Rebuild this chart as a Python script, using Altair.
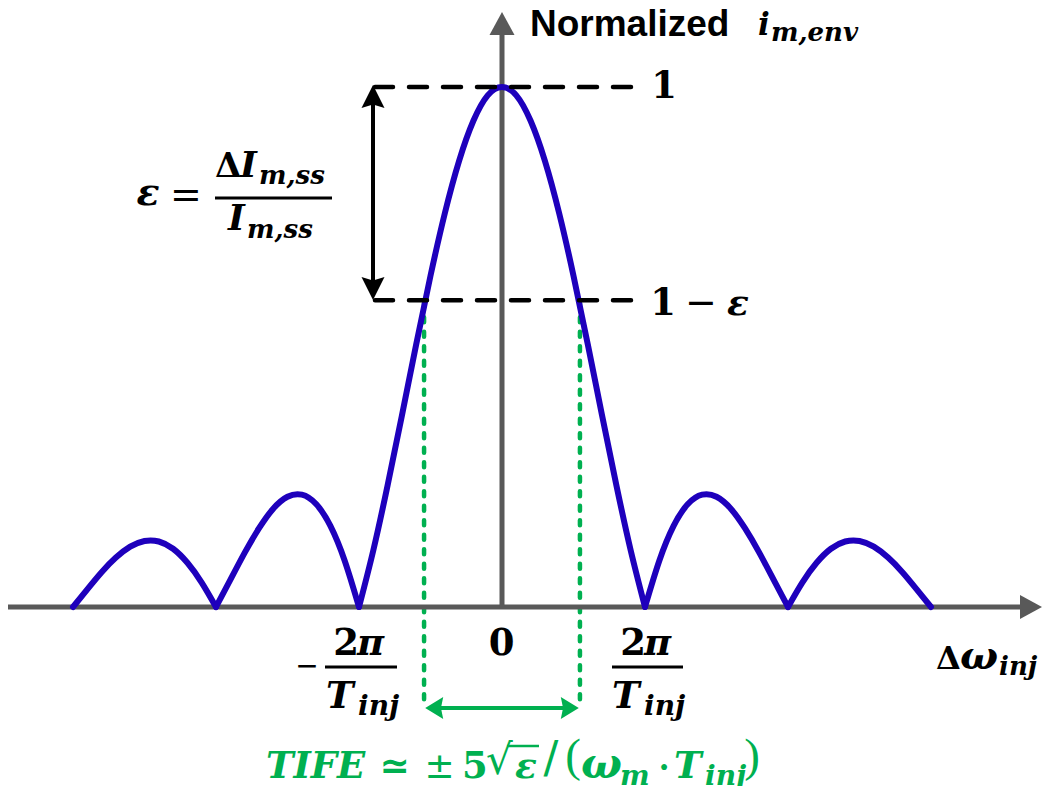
import altair as alt
import pandas as pd

# ---------------- data ----------------
# frequency offset, in units of 2*pi/T_inj
dw = [-3.0, -2.9, -2.8, -2.7, -2.6, -2.5, -2.4, -2.3, -2.2, -2.1,
      -2.0, -1.9, -1.8, -1.7, -1.6, -1.5, -1.4, -1.3, -1.2, -1.1,
      -1.0, -0.9, -0.8, -0.7, -0.6, -0.5, -0.4, -0.3, -0.2, -0.1,
      0.0, 0.1, 0.2, 0.3, 0.4, 0.5, 0.6, 0.7, 0.8, 0.9,
      1.0, 1.1, 1.2, 1.3, 1.4, 1.5, 1.6, 1.7, 1.8, 1.9,
      2.0, 2.1, 2.2, 2.3, 2.4, 2.5, 2.6, 2.7, 2.8, 2.9, 3.0]
# normalized envelope amplitude
amp = [0.000, 0.034, 0.067, 0.095, 0.116, 0.127, 0.126, 0.112, 0.085, 0.047,
       0.000, 0.052, 0.104, 0.151, 0.189, 0.212, 0.216, 0.198, 0.156, 0.089,
       0.000, 0.109, 0.234, 0.368, 0.505, 0.637, 0.757, 0.858, 0.935, 0.984,
       1.000, 0.984, 0.935, 0.858, 0.757, 0.637, 0.505, 0.368, 0.234, 0.109,
       0.000, 0.089, 0.156, 0.198, 0.216, 0.212, 0.189, 0.151, 0.104, 0.052,
       0.000, 0.047, 0.085, 0.112, 0.126, 0.127, 0.116, 0.095, 0.067, 0.034, 0.000]
lobe_edges = [-3.0, -2.0, -1.0, 1.0, 2.0, 3.0]
peak = 1.0
eps = 0.41          # 1 - eps level
tife = 0.545        # half-width of TIFE band

# ---------------- layout ----------------
W, H = 1034, 778
PX0, PXU, PY0, PYU = 502.0, 143.0, 607.0, 520.0   # page px of origin & px per unit
XD = [(8 - PX0) / PXU, (8 + W - PX0) / PXU]
YD = [(PY0 - 8 - H) / PYU, (PY0 - 8) / PYU]

xs = alt.Scale(domain=XD, nice=False, zero=False)
ys = alt.Scale(domain=YD, nice=False, zero=False)
X = alt.X("x:Q", scale=xs, axis=None)
Y = alt.Y("y:Q", scale=ys, axis=None)

SERIF = "DejaVu Serif"
SERIF_L = "Liberation Serif"
DSANS = "DejaVu Sans"
SANS = "Liberation Sans"
BLUE = "#1e00bc"
GREEN = "#00b050"
GRAY = "#595959"
BLACK = "#000000"

layers = []

def seg(x1, y1, x2, y2, color, width, dash=None, cap="round"):
    kw = dict(color=color, strokeWidth=width, strokeCap=cap)
    if dash is not None:
        kw["strokeDash"] = dash
    df = pd.DataFrame({"x": [x1], "y": [y1], "x2": [x2], "y2": [y2]})
    return alt.Chart(df).mark_rule(**kw).encode(x=X, y=Y, x2="x2:Q", y2="y2:Q")

def head(x, y, path, size, color):
    df = pd.DataFrame({"x": [x], "y": [y]})
    return alt.Chart(df).mark_point(shape=path, size=size, filled=True, color=color,
                                    opacity=1, strokeWidth=0).encode(x=X, y=Y)

def txt(t, x, y, size, font=SERIF, style="italic", weight="bold", align="left", color=BLACK):
    df = pd.DataFrame({"x": [x], "y": [y], "t": [t]})
    return alt.Chart(df).mark_text(fontSize=size, font=font, fontStyle=style, fontWeight=weight,
                                   align=align, baseline="alphabetic", color=color).encode(
        x=X, y=Y, text="t:N")

def up(t, x, y, size, font=SERIF, weight="bold", align="center", color=BLACK):
    return txt(t, x, y, size, font=font, style="normal", weight=weight, align=align, color=color)

def ux(p):
    return (p - PX0) / PXU

def vy(p):
    return (PY0 - p) / PYU

# ---------------- curve ----------------
rows = []
for k in range(len(lobe_edges) - 1):
    lo, hi = lobe_edges[k], lobe_edges[k + 1]
    for a, b in zip(dw, amp):
        if lo - 1e-9 <= a <= hi + 1e-9:
            rows.append({"x": a, "y": b, "lobe": k})
curve = alt.Chart(pd.DataFrame(rows)).mark_line(
    color=BLUE, strokeWidth=6, interpolate="natural", strokeCap="round", strokeJoin="round"
).encode(x=X, y=Y, detail="lobe:N", order="x:Q")

# ---------------- green TIFE markers ----------------
lvl = peak - eps
layers.append(seg(-tife, lvl - 0.005, -tife, vy(706), GREEN, 4.5, dash=[5, 9.5]))
layers.append(seg(tife, lvl - 0.005, tife, vy(706), GREEN, 4.5, dash=[5, 9.5]))
ya = vy(708)
layers.append(seg(-tife + 0.06, ya, tife - 0.06, ya, GREEN, 4, cap="butt"))
LEFT = "M-1,0L1,-1.22L0.75,0L1,1.22Z"
RIGHT = "M1,0L-1,-1.22L-0.75,0L-1,1.22Z"
layers.append(head(-tife + 9 / PXU + 0.008, ya, LEFT, 324, GREEN))
layers.append(head(tife - 9 / PXU - 0.008, ya, RIGHT, 324, GREEN))

# ---------------- axes ----------------
layers.append(seg(XD[0], 0, ux(1024), 0, GRAY, 5, cap="butt"))
layers.append(seg(0, 0, 0, vy(33), GRAY, 5, cap="butt"))
layers.append(head(ux(1031), 0, "M-0.917,-1L0.917,0L-0.917,1Z", 576, GRAY))
layers.append(head(0, vy(23.5), "M-1,0.92L0,-0.92L1,0.92Z", 625, GRAY))

# ---------------- curve on top ----------------
layers.append(curve)

# ---------------- black dashed levels & epsilon arrow ----------------
xl, xr = ux(375), ux(633)
layers.append(seg(xl, peak, xr, peak, BLACK, 4.5, dash=[18, 16]))
layers.append(seg(xl, lvl, xr, lvl, BLACK, 4.5, dash=[18, 16]))
xa = ux(373)
layers.append(seg(xa, vy(100), xa, vy(286), BLACK, 4, cap="butt"))
layers.append(head(xa, vy(85 + 11.5), "M0,-1L1,1L0,0.7L-1,1Z", 529, BLACK))
layers.append(head(xa, vy(300 - 11.5), "M0,1L1,-1L0,-0.7L-1,-1Z", 529, BLACK))

# ---------------- texts ----------------
# y-axis title
layers.append(txt("Normalized", ux(530), vy(36), 37, font=SANS, style="normal"))
layers.append(txt("i", ux(758), vy(35), 31))
layers.append(txt("m,env", ux(771), vy(41), 26))
# level labels
layers.append(up("1", ux(664), vy(98), 37))
layers.append(up("1", ux(663), vy(315), 37))
layers.append(up("\u2212", ux(701), vy(315), 38, font=DSANS, weight="normal"))
layers.append(txt("\u03b5", ux(738), vy(315), 36, align="center"))
# epsilon definition
layers.append(txt("\u03b5", ux(148), vy(205), 38, align="center"))
layers.append(up("=", ux(186), vy(207), 38, font=DSANS, weight="normal"))
layers.append(seg(ux(215), vy(198), ux(332), vy(198), BLACK, 3, cap="butt"))
layers.append(up("\u0394", ux(215), vy(177), 34, align="left"))
layers.append(txt("I", ux(240), vy(177), 36))
layers.append(txt("m,ss", ux(259), vy(184), 26))
layers.append(txt("I", ux(228), vy(230), 36))
layers.append(txt("m,ss", ux(247), vy(238), 26))
# x tick labels
layers.append(up("\u2212", ux(307), vy(675), 28, font=DSANS, weight="normal"))
for xc, x1, x2, tl in [(360, 325, 397, 326), (647, 612, 683, 612)]:
    layers.append(seg(ux(x1), vy(667), ux(x2), vy(667), BLACK, 3, cap="butt"))
    layers.append(up("2", ux(xc - 14), vy(655), 37))
    layers.append(txt("\u03c0", ux(xc - 3), vy(655), 37))
    layers.append(txt("T", ux(tl), vy(708), 37))
    layers.append(txt("inj", ux(tl + 32), vy(715), 28))
layers.append(up("0", ux(501.5), vy(655), 37))
# x-axis title
layers.append(up("\u0394", ux(936), vy(669), 32, align="left"))
layers.append(txt("\u03c9", ux(960), vy(669), 40))
layers.append(txt("inj", ux(999), vy(675), 26))
# TIFE formula
gb, sb = vy(778), vy(785)
layers.append(txt("TIFE", ux(266), gb, 37, color=GREEN))
layers.append(up("\u2243", ux(394.5), gb, 36, font=DSANS, weight="bold", color=GREEN))
layers.append(up("\u00b1", ux(439.5), gb, 36, font=DSANS, weight="normal", color=GREEN))
layers.append(up("5", ux(462), gb, 37, align="left", color=GREEN))
layers.append(up("\u221a", ux(486), gb + 0.008, 42, font=DSANS, weight="normal", align="left", color=GREEN))
layers.append(seg(ux(507), vy(746), ux(539), vy(746), GREEN, 2.5, cap="butt"))
layers.append(txt("\u03b5", ux(515), gb, 36, color=GREEN))
layers.append(up("/", ux(551), gb + 0.01, 44, font=DSANS, weight="normal", color=GREEN))
layers.append(up("(", ux(573), gb + 0.014, 47, font=SERIF_L, weight="normal", color=GREEN))
layers.append(txt("\u03c9", ux(581), gb, 43, color=GREEN))
layers.append(txt("m", ux(620), sb, 28, color=GREEN))
layers.append(up("\u00b7", ux(664), gb, 32, color=GREEN))
layers.append(txt("T", ux(674), gb, 37, color=GREEN))
layers.append(txt("inj", ux(705), sb, 28, color=GREEN))
layers.append(up(")", ux(752), gb + 0.014, 47, font=SERIF_L, weight="normal", color=GREEN))

chart = alt.layer(*layers).properties(
    width=W, height=H, padding=0, autosize=alt.AutoSizeParams(type="none"),
    background="white"
).configure_view(stroke=None)

chart.save("out.html", embed_options={"renderer": "svg", "actions": False})
